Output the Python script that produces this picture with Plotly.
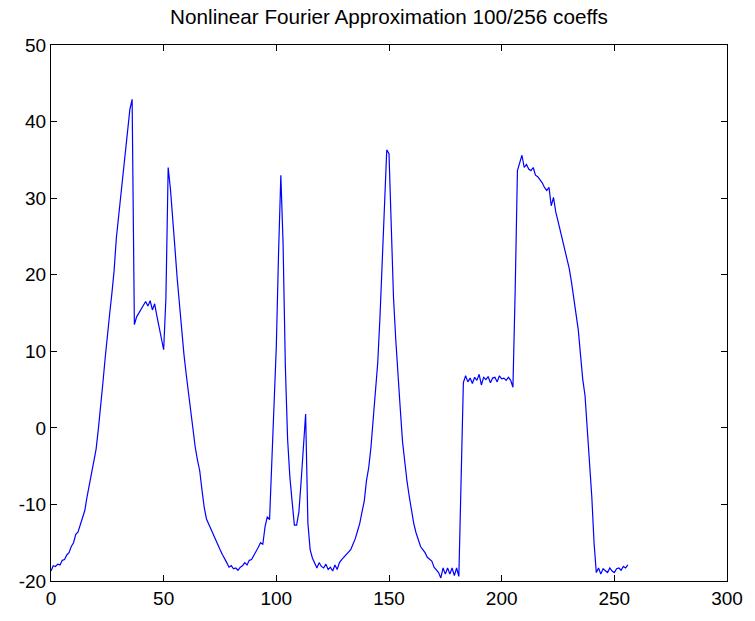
import plotly.graph_objects as go

# sample index (0..256)
x_index = list(range(257))

# signal values
y_values = [
    -18.7, -18.0, -18.1, -17.8, -17.9, -17.3, -17.2, -16.6, -16.3, -15.5,   # 0-9
    -15.0, -13.9, -13.6, -12.6, -11.8, -10.8, -9.0, -7.4, -5.6, -4.0,      # 10-19
    -2.8, -0.2, 2.5, 5.8, 9.0, 12.2, 14.8, 17.5, 20.5, 24.8,               # 20-29
    27.5, 30.2, 33.5, 36.4, 38.8, 41.6, 42.9, 13.5, 14.5, 15.0,            # 30-39
    15.6, 16.0, 16.5, 15.9, 16.6, 15.4, 16.2, 14.6, 13.2, 11.8,            # 40-49
    10.2, 17.0, 34.0, 31.2, 27.8, 23.5, 19.5, 16.0, 12.6, 9.6,             # 50-59
    7.0, 4.6, 2.0, -0.4, -2.5, -4.2, -5.6, -8.1, -10.4, -11.9,             # 60-69
    -12.6, -13.2, -13.9, -14.6, -15.2, -15.9, -16.5, -17.0, -17.6, -18.2,  # 70-79
    -18.0, -18.4, -18.3, -18.6, -18.2, -18.0, -17.6, -17.9, -17.3, -17.2,  # 80-89
    -16.7, -16.2, -15.6, -15.0, -15.2, -12.9, -11.6, -12.0, -5.0, 3.5,     # 90-99
    10.7, 23.0, 33.0, 24.0, 8.0, -1.5, -6.4, -9.6, -12.7, -12.7,           # 100-109
    -11.0, -7.0, -2.5, 1.8, -12.4, -15.9, -17.0, -17.6, -18.3, -17.6,      # 110-119
    -18.1, -18.3, -17.8, -18.5, -18.2, -18.7, -17.9, -18.5, -17.6, -17.2,  # 120-129
    -16.9, -16.5, -16.3, -15.9, -15.2, -14.5, -13.5, -12.5, -11.0, -9.6,   # 130-139
    -6.9, -5.2, -2.5, 1.3, 5.5, 8.5, 14.5, 21.5, 30.0, 36.3,               # 140-149
    35.8, 26.0, 17.0, 11.5, 6.5, 2.5, -1.8, -4.5, -7.0, -9.0,              # 150-159
    -11.0, -12.5, -13.7, -14.7, -15.5, -15.9, -16.3, -16.9, -17.2, -17.4,  # 160-169
    -18.2, -18.5, -18.9, -19.6, -18.3, -19.1, -18.3, -19.1, -18.3, -19.3,  # 170-179
    -18.3, -19.4, -6.0, 5.9, 6.8, 6.0, 6.5, 5.8, 6.6, 6.2,                 # 180-189
    7.0, 5.6, 6.6, 6.3, 6.7, 5.9, 6.5, 6.6, 6.0, 6.8,                      # 190-199
    6.4, 6.5, 6.2, 6.6, 6.2, 5.3, 18.0, 33.6, 34.6, 35.6,                  # 200-209
    34.0, 34.4, 33.8, 33.6, 34.0, 33.0, 32.8, 32.4, 32.0, 31.4,            # 210-219
    31.0, 31.4, 29.0, 30.1, 28.2, 27.0, 25.8, 24.7, 23.6, 22.2,            # 220-229
    20.8, 19.0, 17.0, 15.3, 12.8, 9.5, 6.3, 4.2, -0.3, -3.5,               # 230-239
    -9.0, -15.0, -18.9, -18.3, -19.1, -18.4, -18.6, -18.9, -18.3, -18.7,   # 240-249
    -18.9, -18.4, -18.3, -18.6, -18.1, -18.3, -17.9,                       # 250-256
]

x_ticks = [0, 50, 100, 150, 200, 250, 300]
y_ticks = [-20, -10, 0, 10, 20, 30, 40, 50]
title_text = "Nonlinear Fourier Approximation 100/256 coeffs"

fig = go.Figure()
fig.add_trace(go.Scatter(
    x=x_index, y=y_values, mode="lines",
    line=dict(color="#0000FF", width=1.2),
    showlegend=False, hoverinfo="skip",
))

axis_common = dict(
    showline=True, linecolor="#000000", linewidth=1, mirror="ticks",
    ticks="inside", ticklen=6, tickwidth=1, tickcolor="#000000",
    showgrid=False, zeroline=False,
    tickfont=dict(family="Liberation Sans, Arial, sans-serif", size=19, color="#000000"),
)

fig.update_layout(
    width=755, height=621,
    margin=dict(l=51, r=19, t=45, b=36),
    paper_bgcolor="white", plot_bgcolor="white",
    title=dict(
        text=title_text, x=0.5, xref="paper", xanchor="center",
        y=1 - 17 / 621, yref="container", yanchor="middle",
        font=dict(family="Liberation Sans, Arial, sans-serif", size=20.7, color="#000000"),
    ),
    xaxis=dict(range=[0, 300], tickvals=x_ticks, ticktext=[str(v) for v in x_ticks], **axis_common),
    yaxis=dict(range=[-20, 50], tickvals=y_ticks, ticktext=[str(v) for v in y_ticks], **axis_common),
)

fig.write_html("out.html")
